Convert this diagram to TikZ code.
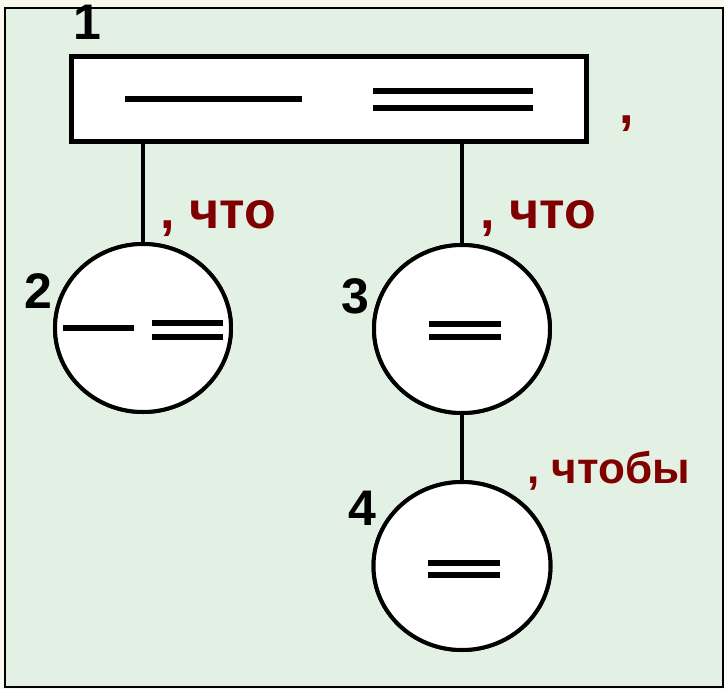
\documentclass[tikz,border=0pt]{standalone}
\usepackage{fontspec}
\setmainfont{Liberation Sans}
\usetikzlibrary{shapes.geometric}
\definecolor{bgout}{RGB}{250,250,236}
\definecolor{bggreen}{RGB}{227,241,228}
\definecolor{dred}{RGB}{128,0,0}
\begin{document}
\begin{tikzpicture}[x=1pt,y=-1pt,
  mainbox/.style={draw=black,fill=white,line width=5.5pt,rectangle,minimum width=515pt,minimum height=85pt,inner sep=0pt},
  clause/.style={draw=black,fill=white,line width=4pt,ellipse,minimum width=176pt,minimum height=168pt,inner sep=0pt},
  conn/.style={line width=3.2pt},
  bar/.style={line width=6pt},
  num/.style={font=\fontsize{50}{50}\selectfont\bfseries,anchor=base,inner sep=0pt},
  conj/.style={font=\fontsize{52}{52}\selectfont\bfseries,text=dred,anchor=base west,inner sep=0pt},
  conjs/.style={font=\fontsize{44}{44}\selectfont\bfseries,text=dred,anchor=base west,inner sep=0pt}]
\fill[bgout] (0,0) rectangle (724,689);
\useasboundingbox (0,0) rectangle (724,689);
\draw[fill=bggreen,line width=2pt] (5,8) rectangle (723,687);
\node[mainbox] (r) at (329,99) {};
\node[clause] (c2) at (143,328) {};
\node[clause] (c3) at (462,329) {};
\node[clause,minimum width=177pt] (c4) at (462,566) {};
\draw[conn] (c2.north) -- (c2.north |- r.south);
\draw[conn] (c3.north) -- (c3.north |- r.south);
\draw[conn] (c3.south) -- (c4.north);
\node[mainbox] at (r) {};
\node[clause] at (c2) {};
\node[clause] at (c3) {};
\node[clause,minimum width=177pt] at (c4) {};
% symbols
\draw[bar] (125,99) -- (302,99);
\draw[bar] (373,91) -- (533,91);
\draw[bar] (373,108) -- (533,108);
\draw[bar] (63,328) -- (134,328);
\draw[bar] (152,323) -- (223,323);
\draw[bar] (152,337) -- (223,337);
\draw[bar] (429,324) -- (501,324);
\draw[bar] (429,337) -- (501,337);
\draw[bar] (428,563) -- (500,563);
\draw[bar] (428,575) -- (500,575);
% numbers
\node[num] (n1) at (87,39) {1};
\node[num] (n2) at (38,308) {2};
\node[num] (n3) at (355,313) {3};
\node[num] (n4) at (362,525) {4};
% conjunctions
\node[conj] (k0) at (619,123) {,};
\node[conj] (k1) at (160,228) {, что};
\node[conj] (k2) at (480,228) {, что};
\node[conjs] (k3) at (527,483) {, чтобы};
\end{tikzpicture}
\end{document}
